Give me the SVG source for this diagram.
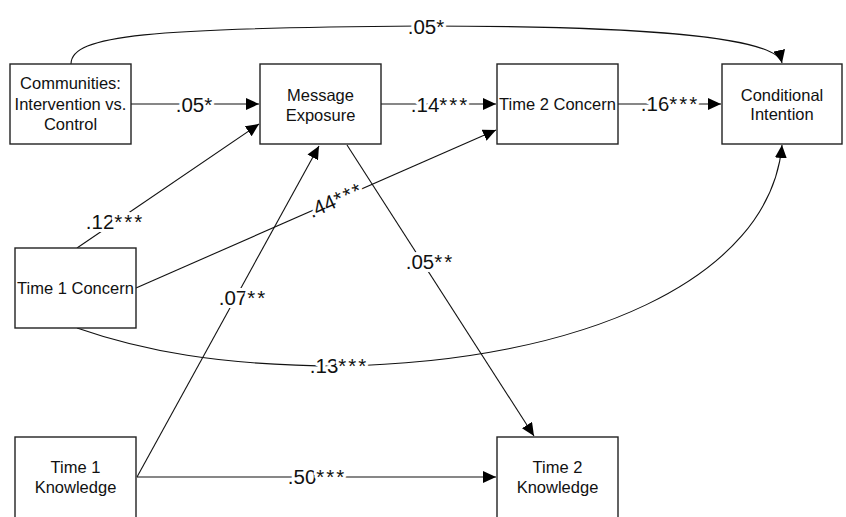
<svg xmlns="http://www.w3.org/2000/svg" width="846" height="517" viewBox="0 0 846 517">
<defs>
<marker id="ah" markerUnits="userSpaceOnUse" markerWidth="14" markerHeight="12" refX="13" refY="6" orient="auto">
<path d="M0,0 L13,6 L0,12 Z" fill="#000"/>
</marker>
<style>
.box{fill:#fff;stroke:#222;stroke-width:1.4}
.t{font-family:"Liberation Sans",Arial,sans-serif;font-size:16.5px;text-anchor:middle;fill:#111}
.c{fill:none;stroke:#111;stroke-width:1.1}
.a{marker-end:url(#ah)}
.l{font-family:"Liberation Sans",Arial,sans-serif;font-size:20.5px;text-anchor:middle;fill:#111;stroke:#fff;stroke-width:6;paint-order:stroke;stroke-linejoin:round}
.s{letter-spacing:2px}
</style>
</defs>
<rect width="846" height="517" fill="#fff"/>
<g id="connectors">
<path class="c a" d="M71,64 C71,35 150,28 420,26 C640,26 776,36 782,63"/>
<path class="c a" d="M131,104 L259,104"/>
<path class="c a" d="M381,104 L496,104"/>
<path class="c a" d="M618,104 L721,104"/>
<path class="c a" d="M77,248 L259,124"/>
<path class="c a" d="M136,288 L496,130"/>
<path class="c a" d="M137,477 L319,146"/>
<path class="c a" d="M347,145 L534,436"/>
<path class="c a" d="M137,477 L496,477"/>
<path class="c a" d="M77,328 C140,350 220,366 340,366 C580,362 770,280 782,145"/>
<text class="l" x="426" y="34">.05*</text>
<text class="l" x="194" y="112">.05*</text>
<text class="l" x="440" y="112">.14<tspan class="s">***</tspan></text>
<text class="l" x="670" y="111">.16<tspan class="s">***</tspan></text>
<text class="l" x="115" y="229">.12<tspan class="s">***</tspan></text>
<text class="l" x="336" y="207" transform="rotate(-24 336 201)">.44<tspan class="s">***</tspan></text>
<text class="l" x="243" y="305">.07<tspan class="s">**</tspan></text>
<text class="l" x="430" y="269">.05<tspan class="s">**</tspan></text>
<text class="l" x="339" y="373">.13<tspan class="s">***</tspan></text>
<text class="l" x="317" y="484">.50<tspan class="s">***</tspan></text>
</g>
<g id="communities">
<rect class="box" x="10" y="64" width="121" height="80"/>
<text class="t" x="70.5" y="89">Communities:</text>
<text class="t" x="70.5" y="110">Intervention vs.</text>
<text class="t" x="70.5" y="130">Control</text>
</g>
<g id="message-exposure">
<rect class="box" x="260" y="64" width="121" height="80"/>
<text class="t" x="320.5" y="101">Message</text>
<text class="t" x="320.5" y="121">Exposure</text>
</g>
<g id="time2-concern">
<rect class="box" x="497" y="64" width="121" height="80"/>
<text class="t" x="557.5" y="110">Time 2 Concern</text>
</g>
<g id="conditional-intention">
<rect class="box" x="722" y="64" width="120" height="80"/>
<text class="t" x="782" y="101">Conditional</text>
<text class="t" x="782" y="120">Intention</text>
</g>
<g id="time1-concern">
<rect class="box" x="15" y="248" width="121" height="80"/>
<text class="t" x="75.5" y="294">Time 1 Concern</text>
</g>
<g id="time1-knowledge">
<rect class="box" x="15" y="437" width="121" height="90"/>
<text class="t" x="75.5" y="473">Time 1</text>
<text class="t" x="75.5" y="493">Knowledge</text>
</g>
<g id="time2-knowledge">
<rect class="box" x="497" y="437" width="121" height="90"/>
<text class="t" x="557.5" y="473">Time 2</text>
<text class="t" x="557.5" y="493">Knowledge</text>
</g>
</svg>
